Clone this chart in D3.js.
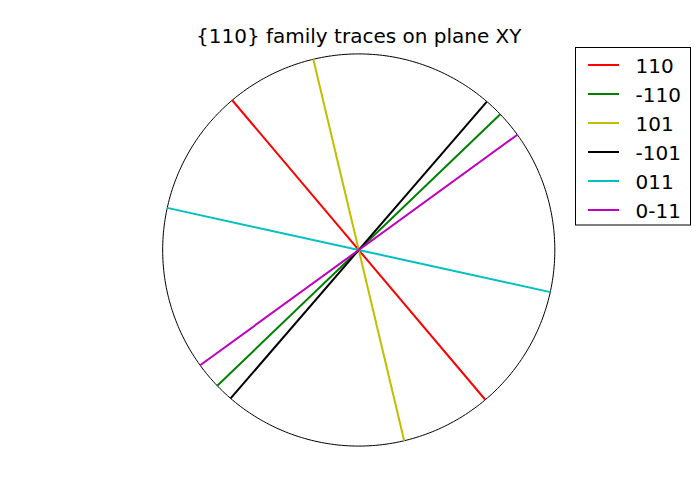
<!DOCTYPE html>
<html>
<head>
<meta charset="utf-8">
<script src="https://d3js.org/d3.v7.min.js"></script>
<style>
  body { margin: 0; background: #fff; }
  svg { font-family: "DejaVu Sans", sans-serif; }
</style>
</head>
<body>
<svg width="700" height="500"></svg>
<script>
// trace labels and their in-plane angles (degrees, from +X, anticlockwise)
const labels = ["110", "-110", "101", "-101", "011", "0-11"];
const angles = [130.2, 43.8, 103.4, 49.2, -12.4, 36.0];
const colors = ["#ff0000", "#008000", "#bfbf00", "#000000", "#00bfbf", "#bf00bf"];

const svg = d3.select("svg");
const lim = 1.02;
const x = d3.scaleLinear().domain([-lim, lim]).range([158.75, 558.75]);
const y = d3.scaleLinear().domain([-lim, lim]).range([450, 50]);

// unit circle
const circ = d3.range(0, 361, 1).map(a => [Math.cos(a * Math.PI / 180), Math.sin(a * Math.PI / 180)]);
const line = d3.line().x(d => x(d[0])).y(d => y(d[1]));
svg.append("path")
  .attr("d", line(circ))
  .attr("fill", "none")
  .attr("stroke", "#000")
  .attr("stroke-width", 1);

// traces
svg.selectAll("path.trace")
  .data(angles)
  .enter()
  .append("path")
  .attr("class", "trace")
  .attr("d", a => {
    const r = a * Math.PI / 180;
    return line([[-Math.cos(r), -Math.sin(r)], [Math.cos(r), Math.sin(r)]]);
  })
  .attr("stroke", (d, i) => colors[i])
  .attr("stroke-width", 2)
  .attr("fill", "none");

svg.append("text")
  .attr("x", 358.75)
  .attr("y", 43)
  .attr("text-anchor", "middle")
  .attr("font-size", 20)
  .text("{110} family traces on plane XY");

// legend
const lg = svg.append("g");
lg.append("rect")
  .attr("x", 575.5).attr("y", 47.5)
  .attr("width", 115).attr("height", 177.5)
  .attr("fill", "#fff").attr("stroke", "#000").attr("stroke-width", 1);
const rows = lg.selectAll("g")
  .data(labels)
  .enter()
  .append("g")
  .attr("transform", (d, i) => `translate(0,${65 + i * 29})`);
rows.append("line")
  .attr("x1", 588).attr("x2", 619)
  .attr("stroke", (d, i) => colors[i])
  .attr("stroke-width", 2);
rows.append("text")
  .attr("x", 635.5)
  .attr("y", 8)
  .attr("font-size", 20)
  .text(d => d);
</script>
</body>
</html>
